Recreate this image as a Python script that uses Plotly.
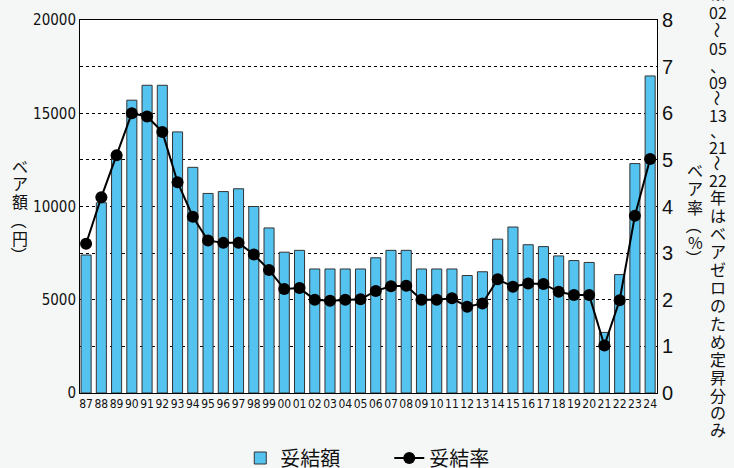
import plotly.graph_objects as go

years = ["87","88","89","90","91","92","93","94","95","96","97","98","99",
         "00","01","02","03","04","05","06","07","08","09",
         "10","11","12","13","14","15","16","17","18","19",
         "20","21","22","23","24"]
amounts = [7400, 10200, 12700, 15700, 16500, 16500, 14000, 12100, 10700, 10800,
           10950, 10000, 8850, 7550, 7650, 6650, 6650, 6650, 6650, 7250,
           7650, 7650, 6650, 6650, 6650, 6300, 6500, 8250, 8900, 7950,
           7850, 7350, 7100, 7000, 3250, 6350, 12300, 17000]
rates = [3.2, 4.2, 5.1, 6.0, 5.93, 5.6, 4.52, 3.78, 3.27, 3.22,
         3.22, 2.97, 2.64, 2.23, 2.25, 2.0, 1.98, 2.0, 2.01, 2.19,
         2.29, 2.3, 2.0, 2.0, 2.03, 1.85, 1.92, 2.44, 2.28, 2.35,
         2.34, 2.17, 2.1, 2.1, 1.02, 1.99, 3.8, 5.02]

left_title = ["ベ", "ア", "額", "（", "円", "）"]
right_title = ["ベ", "ア", "率", "（", "%", "）"]
note_chars = ["※", "02", "～", "05", "、", "09", "～", "13", "、", "21", "～", "22",
              "年", "は", "ベ", "ア", "ゼ", "ロ", "の", "た", "め", "定", "昇", "分", "の", "み"]

W, H = 734, 468
ML, MR, MT, MB = 80, 77, 20, 75
PW, PH = W - ML - MR, H - MT - MB

def px(x):
    return (x - ML) / PW

def py(y):
    return (H - MB - y) / PH

JP = "Noto Sans CJK JP"
NARROW = "Liberation Sans Narrow, DejaVu Sans Condensed, Arial Narrow, Liberation Sans, sans-serif"

fig = go.Figure()
fig.add_trace(go.Bar(
    x=years, y=amounts, name="妥結額", width=0.66,
    marker=dict(color="#55C3F0", line=dict(color="#333333", width=1)),
    yaxis="y",
))
fig.add_trace(go.Scatter(
    x=years, y=rates, name="妥結率", mode="lines+markers",
    line=dict(color="black", width=2),
    marker=dict(color="black", size=12),
    yaxis="y2",
))

annotations = []
def vtext(chars, x, ys, size, family=JP):
    for ch, yy in zip(chars, ys):
        rot = 90 if ch in ("～", "（", "）") else 0
        annotations.append(dict(
            text=ch, x=px(x), y=py(yy), xref="paper", yref="paper",
            showarrow=False, textangle=rot, xanchor="center", yanchor="middle",
            font=dict(family=family, size=size, color="#111111"),
        ))

vtext(left_title, 20, [166, 183, 201, 221, 238, 255], 16)
vtext(right_title, 695, [170, 188, 207, 226, 242, 258], 16)
note_y = [-6, 12, 30, 48, 65, 82, 98, 115, 130, 147, 163, 180,
          197, 215, 233, 251, 269, 287, 305, 323, 341, 359, 377, 395, 412, 429]
vtext(note_chars, 718, note_y, 16)

fig.update_layout(
    width=W, height=H,
    margin=dict(l=ML, r=MR, t=MT, b=MB, autoexpand=False),
    paper_bgcolor="#F5F7F7", plot_bgcolor="white",
    showlegend=True,
    legend=dict(orientation="h", x=0.536, xanchor="center", y=py(458), yanchor="middle",
                font=dict(family=JP, size=20, color="#111111"),
                bgcolor="rgba(0,0,0,0)", itemwidth=30,
                entrywidth=104, entrywidthmode="pixels"),
    xaxis=dict(type="category", range=[-0.4, 37.45], showline=True, mirror=True,
               linecolor="black", linewidth=1, ticks="", showgrid=False,
               tickmode="array", tickvals=years, ticktext=years, tickangle=0,
               tickfont=dict(family=NARROW, size=12, color="#111111")),
    yaxis=dict(range=[0, 20000], tickvals=[0, 5000, 10000, 15000, 20000],
               ticktext=["0", "5000", "10000", "15000", "20000"],
               showline=True, mirror=True, linecolor="black", linewidth=1,
               showgrid=True, gridcolor="black", griddash="dot", gridwidth=1.2,
               minor=dict(dtick=2500, showgrid=True, gridcolor="black", griddash="dot", gridwidth=1.2),
               zeroline=False, ticks="",
               tickfont=dict(family=NARROW, size=15, color="#111111")),
    yaxis2=dict(range=[0, 8], dtick=1, overlaying="y", side="right", showgrid=False,
                zeroline=False, showline=False, ticks="", ticklabelstandoff=4,
                tickfont=dict(family="Liberation Sans, Arial, sans-serif", size=20, color="#111111")),
    annotations=annotations,
)

fig.write_html("out.html", post_script="document.body.style.margin='0';",
               config={"displayModeBar": False})
